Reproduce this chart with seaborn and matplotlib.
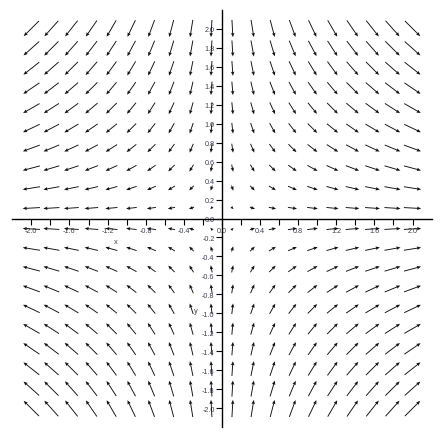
import numpy as np
import matplotlib
matplotlib.use("Agg")
import matplotlib.pyplot as plt
import seaborn as sns

# grid of sample points (20 x 20)
GRID_X = [-2.0, -1.79, -1.58, -1.37, -1.16, -0.95, -0.74, -0.53, -0.32, -0.11,
          0.11, 0.32, 0.53, 0.74, 0.95, 1.16, 1.37, 1.58, 1.79, 2.0]
GRID_Y = [-2.0, -1.79, -1.58, -1.37, -1.16, -0.95, -0.74, -0.53, -0.32, -0.11,
          0.11, 0.32, 0.53, 0.74, 0.95, 1.16, 1.37, 1.58, 1.79, 2.0]

# field components: u follows x, v follows -y
U_SIGN = 1.0
V_SIGN = -1.0

XTICKS = [-2.0, -1.8, -1.6, -1.4, -1.2, -1.0, -0.8, -0.6, -0.4, -0.2, 0.0,
          0.2, 0.4, 0.6, 0.8, 1.0, 1.2, 1.4, 1.6, 1.8, 2.0]
XTICK_LABELS = ["-2.0", "", "-1.6", "", "-1.2", "", "-0.8", "", "-0.4", "", "0.0",
                "", "0.4", "", "0.8", "", "1.2", "", "1.6", "", "2.0"]
YTICKS = XTICKS
YTICK_LABELS = ["-2.0", "-1.8", "-1.6", "-1.4", "-1.2", "-1.0", "-0.8", "-0.6", "-0.4", "-0.2", "0.0",
                "0.2", "0.4", "0.6", "0.8", "1.0", "1.2", "1.4", "1.6", "1.8", "2.0"]

LABEL_COLOR = "#3c4250"

sns.set_theme(style="white")
plt.rcParams["font.family"] = ["Liberation Sans", "DejaVu Sans"]
plt.rcParams["axes.unicode_minus"] = False

fig = plt.figure(figsize=(4.47, 4.39), dpi=100)
ax = fig.add_axes([0.0275, 0.024, 0.938, 0.952])
ax.set_xlim(-2.2, 2.2)
ax.set_ylim(-2.2, 2.2)

X, Y = np.meshgrid(GRID_X, GRID_Y)
U = U_SIGN * X
V = V_SIGN * Y

# arrow lengths in the picture grow slower than the magnitude
r = np.hypot(U, V)
shrink = (11.0 / 95.2) * r ** 0.65 / r
ax.quiver(X, Y, U * shrink, V * shrink, angles="xy", scale_units="xy", scale=1,
          pivot="middle", color="#111111", width=0.0022, headwidth=3.8,
          headlength=4.5, headaxislength=4.0)

for side in ["top", "right"]:
    ax.spines[side].set_visible(False)
ax.spines["left"].set_position(("data", 0))
ax.spines["bottom"].set_position(("data", 0))
for side in ["left", "bottom"]:
    ax.spines[side].set_color("black")
    ax.spines[side].set_linewidth(1.0)

ax.set_xticks(XTICKS, XTICK_LABELS)
ax.set_yticks(YTICKS, YTICK_LABELS)
ax.tick_params(axis="x", direction="out", length=4.3, width=0.8, pad=1.5,
               labelsize=5.2, labelcolor=LABEL_COLOR, color="black", bottom=True)
ax.tick_params(axis="y", direction="out", length=4.3, width=0.8, pad=1.0,
               labelsize=5.2, labelcolor=LABEL_COLOR, color="black", left=True)

ax.text(-1.11, -0.24, "x", fontsize=5.4, color=LABEL_COLOR, ha="center", va="center")
ax.text(-0.27, -0.97, "y", fontsize=5.4, color=LABEL_COLOR, ha="center", va="center")

fig.savefig("out.png", dpi=100)
plt.close(fig)
